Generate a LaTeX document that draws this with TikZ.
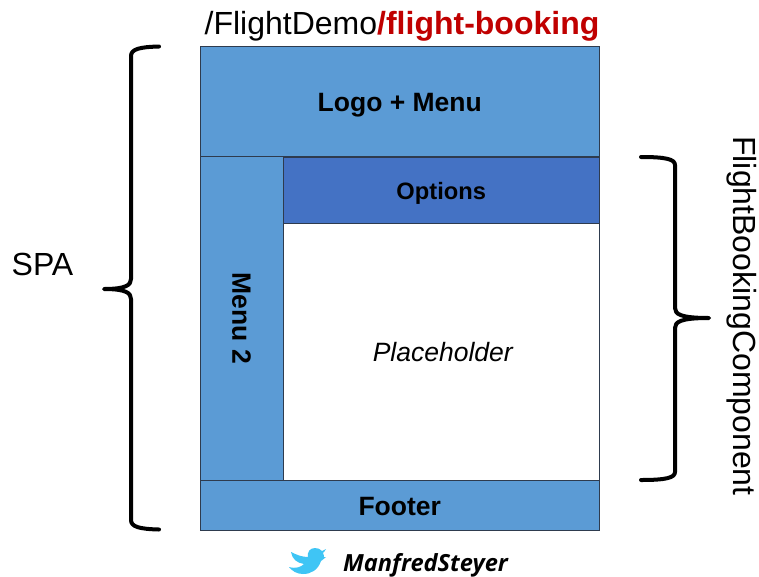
\documentclass[tikz,border=0pt]{standalone}
\usepackage{fontspec}
\setmainfont{Liberation Sans}
\newfontfamily\tagfont{Open Sans}
\definecolor{paneblue}{HTML}{5B9BD5}
\definecolor{optblue}{HTML}{4472C4}
\definecolor{darkred}{HTML}{C00000}
\definecolor{birdblue}{HTML}{3FC5F5}
\definecolor{paneline}{HTML}{2E3B4E}
\newcommand{\dropto}[2]{\raisebox{-#1pt}[0pt][0pt]{#2}}
\tikzset{
  pane/.style={draw=paneline,line width=0.9pt,fill=paneblue,inner sep=0pt,font=\bfseries\fontsize{26.5}{28}\selectfont},
  brace/.style={draw=black,line width=4pt,line cap=round,line join=round},
  bigtext/.style={inner sep=0pt,font=\fontsize{32}{36}\selectfont}
}
\begin{document}
\begin{tikzpicture}[x=1pt,y=-1pt]
\useasboundingbox (0,0) rectangle (759,576);
\fill[white] (0,0) rectangle (759,576);
\node[pane,minimum width=399.5pt,minimum height=110.5pt] (logo) at (399.75,101.5) {\dropto{9.5}{Logo + Menu}};
\node[pane,minimum width=83pt,minimum height=324pt] (menu) at (241.5,318.5) {\rotatebox{-90}{Menu 2}};
\node[pane,fill=optblue,minimum width=316.5pt,minimum height=66pt,font=\bfseries\fontsize{23.7}{28}\selectfont] (options) at (441.25,190) {\dropto{9}{Options}};
\node[pane,fill=white,minimum width=316.5pt,minimum height=258pt,font=\itshape\fontsize{26.5}{28}\selectfont] (place) at (441.25,352) {\hspace*{3pt}\dropto{9.5}{Placeholder}};
\node[pane,minimum width=399.5pt,minimum height=50pt] (footer) at (399.75,505.5) {\dropto{10}{Footer}};
\node[inner sep=0pt,anchor=base,font=\fontsize{32}{32}\selectfont] (url) at (402,34) {/FlightDemo\textcolor{darkred}{\bfseries/flight-booking}};
\node[bigtext] (spa) at (42.5,264) {SPA};
\node[bigtext,rotate=-90] (fbc) at (742,316) {FlightBookingComponent};
\draw[brace] (159,46.5) .. controls (140,47) and (131,49) .. (131,56) -- (131,279) .. controls (131,285) and (126,289) .. (104,289) .. controls (126,289) and (131,293) .. (131,299) -- (131,520) .. controls (131,527) and (140,529) .. (159,529.5);
\draw[brace] (641,157) .. controls (665,157) and (675,159) .. (675,165) -- (675,308) .. controls (675,314) and (680,318) .. (709,318) .. controls (680,318) and (675,322) .. (675,328) -- (675,472) .. controls (675,478) and (665,480) .. (641,480);
\fill[birdblue] (289,567) .. controls (296,569) and (301,567) .. (304,564) .. controls (297,563) and (292,559) .. (291,552) .. controls (297,555) and (302,557) .. (308,557) .. controls (307,552) and (310,548) .. (315,548) .. controls (318,548) and (320,549) .. (322,551) .. controls (323,550) and (325,550) .. (326,549) .. controls (325,551) and (324,552) .. (323,553) .. controls (324,555) and (324,556) .. (324,557) .. controls (325,557) and (325,557) .. (326,557) .. controls (324,559) and (322,560) .. (321,561) .. controls (318,570) and (311,574) .. (303,574) .. controls (297,574) and (292,571) .. (289,567) -- cycle;
\node[inner sep=0pt,anchor=base west,font=\tagfont\bfseries\itshape\fontsize{23.6}{24}\selectfont] (tag) at (343,571) {ManfredSteyer};
\end{tikzpicture}
\end{document}
